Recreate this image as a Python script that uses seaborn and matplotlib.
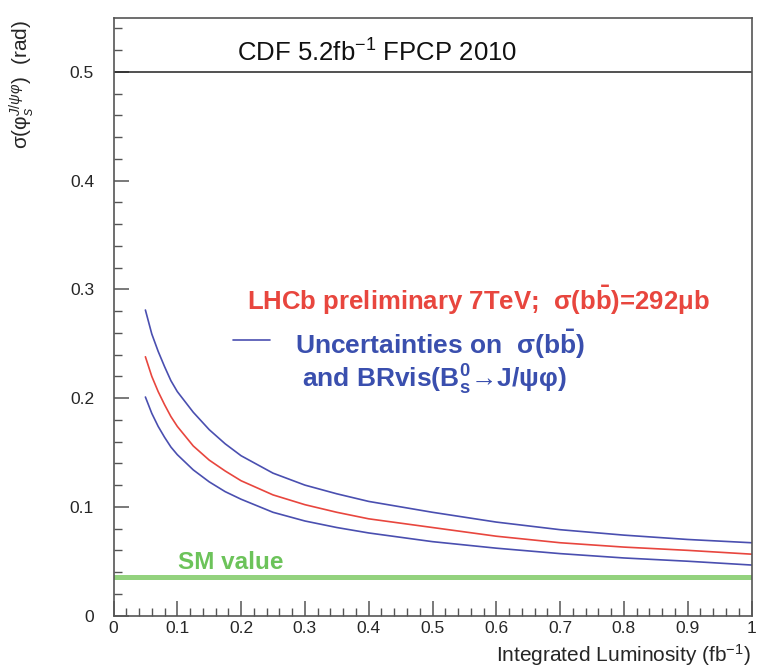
import matplotlib
matplotlib.use("Agg")
import matplotlib.pyplot as plt
import seaborn as sns
import pandas as pd

# ---- data ----
lumi = [0.05, 0.06, 0.07, 0.08, 0.09, 0.10, 0.125, 0.15, 0.175, 0.20,
        0.25, 0.30, 0.35, 0.40, 0.50, 0.60, 0.70, 0.80, 0.90, 1.00]
sigma_central = [0.238, 0.220, 0.206, 0.194, 0.183, 0.174, 0.156, 0.143, 0.133, 0.124,
                 0.111, 0.102, 0.095, 0.089, 0.081, 0.073, 0.067, 0.063, 0.060, 0.0565]
sigma_upper = [0.281, 0.259, 0.243, 0.229, 0.216, 0.206, 0.187, 0.171, 0.158, 0.147,
               0.131, 0.120, 0.112, 0.105, 0.095, 0.086, 0.079, 0.074, 0.070, 0.067]
sigma_lower = [0.201, 0.186, 0.174, 0.164, 0.155, 0.148, 0.134, 0.123, 0.114, 0.107,
               0.095, 0.087, 0.081, 0.076, 0.068, 0.062, 0.057, 0.053, 0.050, 0.0465]
cdf_value = 0.5
sm_value = 0.0357
x_ticks = [0, 0.1, 0.2, 0.3, 0.4, 0.5, 0.6, 0.7, 0.8, 0.9, 1]
x_tick_labels = ["0", "0.1", "0.2", "0.3", "0.4", "0.5", "0.6", "0.7", "0.8", "0.9", "1"]
y_ticks = [0, 0.1, 0.2, 0.3, 0.4, 0.5]
y_tick_labels = ["0", "0.1", "0.2", "0.3", "0.4", "0.5"]

sns.set_style("ticks")
plt.rcParams['font.family'] = ['Liberation Sans', 'DejaVu Sans']
plt.rcParams['mathtext.fontset'] = 'custom'
plt.rcParams['mathtext.rm'] = 'Liberation Sans'
plt.rcParams['mathtext.it'] = 'Liberation Sans:italic'
plt.rcParams['mathtext.bf'] = 'Liberation Sans:bold'

RED = "#e8463e"
BLUE = "#4a4fb0"
BLUE_TXT = "#3a4fae"
GREEN = "#93d27e"
GREEN_TXT = "#6cc35a"

fig = plt.figure(figsize=(7.67, 6.67), dpi=100)
ax = fig.add_axes([113.5 / 767, 1 - 615.6 / 667, 638 / 767, (615.6 - 17.5) / 667])

df = pd.DataFrame({"lumi": lumi, "central": sigma_central,
                   "upper": sigma_upper, "lower": sigma_lower})
sns.lineplot(data=df, x="lumi", y="upper", ax=ax, color=BLUE, lw=1.2)
sns.lineplot(data=df, x="lumi", y="central", ax=ax, color=RED, lw=1.2)
sns.lineplot(data=df, x="lumi", y="lower", ax=ax, color=BLUE, lw=1.2)

ax.axhline(cdf_value, color="#222222", lw=1.1)
ax.axhline(sm_value, color=GREEN, lw=3.6)

ax.set_xlim(0, 1)
ax.set_ylim(0, 0.55)
ax.set_xticks(x_ticks)
ax.set_xticklabels(x_tick_labels)
ax.set_yticks(y_ticks)
ax.set_yticklabels(y_tick_labels)
ax.set_xticks([i * 0.02 for i in range(51)], minor=True)
ax.set_yticks([i * 0.02 for i in range(28)], minor=True)
ax.tick_params(which="major", direction="in", length=11, width=1.1, color="#555555",
               labelsize=12.5, top=False, right=False)
ax.tick_params(which="minor", direction="in", length=5.5, width=1.0, color="#555555",
               top=False, right=False)
ax.tick_params(axis="x", pad=4)
ax.tick_params(axis="y", pad=14)
for s in ax.spines.values():
    s.set_color("#555555")
    s.set_linewidth(1.2)
ax.set_xlabel("")
ax.set_ylabel("")

# annotations
ax.text(0.1935, 0.505, "CDF 5.2fb$^{-1}$ FPCP 2010", fontsize=18.5, color="#111111",
        ha="left", va="bottom")
ax.text(0.209, 0.290, r"LHCb preliminary 7TeV;  σ(b$\mathbf{\bar{b}}$)=292μb",
        fontsize=18.5, fontweight="bold", color=RED, ha="left", va="center")
ax.plot([0.187, 0.245], [0.253, 0.253], color=BLUE, lw=1.2)
ax.text(0.284, 0.250, r"Uncertainties on  σ(b$\mathbf{\bar{b}}$)",
        fontsize=19, fontweight="bold", color=BLUE_TXT, ha="left", va="center")
ax.text(0.295, 0.2165, r"and BRvis(B$_{\mathbf{s}}^{\mathbf{0}}$→J/ψφ)",
        fontsize=19, fontweight="bold", color=BLUE_TXT, ha="left", va="center")
ax.text(0.101, 0.049, "SM value", fontsize=17.5, fontweight="bold", color=GREEN_TXT,
        ha="left", va="center")

fig.text(751 / 767, 1 - 655 / 667, "Integrated Luminosity (fb$^{-1}$)", fontsize=15,
         ha="right", va="center")
fig.text(22 / 767, 1 - 20 / 667, r"σ(φ$_s^{J/ψ φ}$)  (rad)", fontsize=15,
         rotation=90, ha="center", va="top")

fig.savefig("out.png", dpi=100)
